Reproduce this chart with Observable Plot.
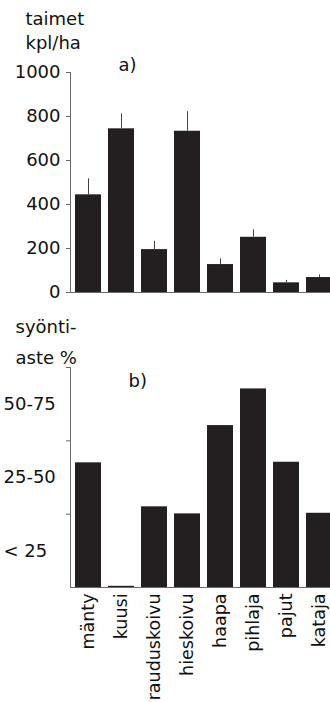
<!DOCTYPE html>
<html>
<head>
<meta charset="utf-8">
<script src="https://cdn.jsdelivr.net/npm/d3@7"></script>
<script src="https://cdn.jsdelivr.net/npm/@observablehq/plot@0.6"></script>
<style>
  html, body { margin: 0; padding: 0; background: white; overflow: hidden; }
  #chart svg { display: block; }
</style>
</head>
<body>
<div id="chart"></div>
<script>
const categories = ["mänty", "kuusi", "rauduskoivu", "hieskoivu", "haapa", "pihlaja", "pajut", "kataja"];
const density = [444, 744, 195, 733, 127, 251, 44, 68];
const densityErr = [517, 812, 232, 823, 153, 285, 55, 80];
const browsing = [42.5, 0.4, 27.5, 25.1, 55.2, 67.7, 42.7, 25.3];
const densityTicks = [0, 200, 400, 600, 800, 1000];
const browsingTicks = [25, 50, 75];
const browsingClasses = ["< 25", "25-50", "50-75"];
const browsingClassMid = [12.5, 37.5, 62.5];

const dataA = categories.map((c, i) => ({cat: c, v: density[i], e: densityErr[i]}));
const dataB = categories.map((c, i) => ({cat: c, v: browsing[i]}));

const FONT = "DejaVu Sans";
const BAR = "#231f20";
const AX = "#6a6a6a";
const common = {
  width: 330,
  marginLeft: 70,
  marginRight: -7,
  style: {fontFamily: FONT, fontSize: "18px", background: "white", color: "#111", overflow: "visible"}
};
const xScale = {domain: categories, paddingInner: 0.2, paddingOuter: 0.1, label: null};

const plotA = Plot.plot({
  ...common,
  height: 300,
  marginTop: 72,
  marginBottom: 8,
  x: {...xScale, axis: null},
  y: {domain: [0, 1000], axis: null, label: null},
  marks: [
    Plot.barY(dataA, {x: "cat", y: "v", fill: BAR}),
    Plot.ruleX(dataA, {x: "cat", y1: "v", y2: "e", stroke: "#444", strokeWidth: 1}),
    Plot.frame({anchor: "left", stroke: AX}),
    Plot.ruleY([0], {stroke: AX}),
    Plot.axisY(densityTicks, {tickSize: 4, tickPadding: 6, fontSize: 18, stroke: AX, color: "#111", label: null, tickFormat: d3.format("d")}),
    Plot.text(["taimet\nkpl/ha"], {frameAnchor: "top-left", dx: -45, dy: -24, textAnchor: "start", lineAnchor: "bottom", lineHeight: 1.3, fontSize: 18, fill: "#111"}),
    Plot.text(["a)"], {frameAnchor: "top-left", dx: 48, dy: -2, textAnchor: "start", lineAnchor: "bottom", fontSize: 18, fill: "#111"})
  ]
});

const plotB = Plot.plot({
  ...common,
  height: 402,
  marginTop: 67,
  marginBottom: 115,
  x: {...xScale},
  y: {domain: [0, 75], axis: null, label: null},
  marks: [
    Plot.barY(dataB, {x: "cat", y: "v", fill: BAR}),
    Plot.frame({anchor: "left", stroke: AX}),
    Plot.ruleY([0], {stroke: AX}),
    Plot.axisY(browsingTicks, {tickSize: 4, tickFormat: () => "", stroke: AX, label: null}),
    Plot.text(browsingClasses, {y: browsingClassMid, frameAnchor: "left", dx: -67, textAnchor: "start", fontSize: 18, fill: "#111"}),
    Plot.axisX({tickSize: 0, tickPadding: 6, tickRotate: -90, fontSize: 17.5, color: "#111", label: null}),
    Plot.text(["syönti-\naste %"], {frameAnchor: "top-left", dx: -55, dy: -4, textAnchor: "start", lineAnchor: "bottom", lineHeight: 1.72, fontSize: 18, fill: "#111"}),
    Plot.text(["b)"], {frameAnchor: "top-left", dx: 58, dy: 19, textAnchor: "start", lineAnchor: "bottom", fontSize: 18, fill: "#111"})
  ]
});

document.getElementById("chart").append(plotA, plotB);
</script>
</body>
</html>
